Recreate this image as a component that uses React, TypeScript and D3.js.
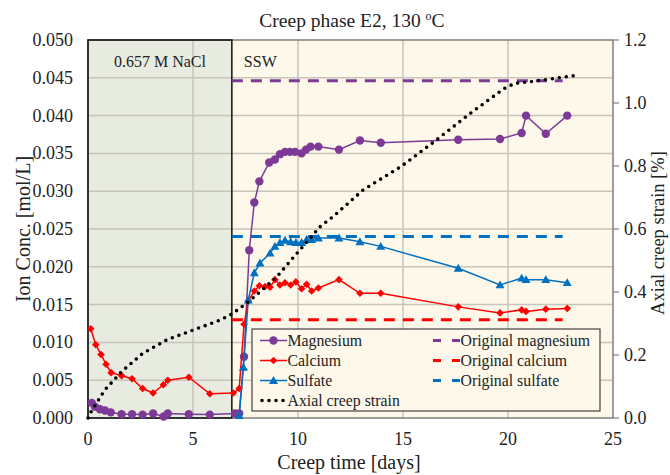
import React from "react";
import * as d3 from "d3";

const xTicks = [0, 5, 10, 15, 20, 25];
const yTicks = [0, 0.005, 0.01, 0.015, 0.02, 0.025, 0.03, 0.035, 0.04, 0.045, 0.05];
const y2Ticks = [0, 0.2, 0.4, 0.6, 0.8, 1.0, 1.2];
const phaseBoundary = 6.85;

const mgDays = [0.18, 0.33, 0.57, 0.81, 1.08, 1.6, 2.1, 2.6, 3.1, 3.6, 3.8, 4.8, 5.8, 7.0, 7.2, 7.43, 7.68, 7.92, 8.16, 8.63, 8.9, 9.14, 9.38, 9.62, 9.86, 10.17, 10.38, 10.6, 10.97, 11.95, 12.95, 13.94, 17.63, 19.62, 20.65, 20.86, 21.8, 22.82];
const mgConc = [0.002, 0.0015, 0.00115, 0.001, 0.00075, 0.0005, 0.0005, 0.00045, 0.0006, 0.0002, 0.0006, 0.0005, 0.00045, 0.0006, 0.0006, 0.0081, 0.0222, 0.0285, 0.0313, 0.0338, 0.0342, 0.0349, 0.0352, 0.0352, 0.0352, 0.035, 0.0355, 0.0359, 0.0359, 0.0355, 0.0367, 0.0364, 0.0368, 0.0369, 0.0377, 0.04, 0.0376, 0.04];

const caDays = [0.13, 0.37, 0.62, 0.86, 1.1, 1.6, 2.1, 2.6, 3.1, 3.59, 3.8, 4.8, 5.8, 6.92, 7.2, 7.43, 7.63, 7.92, 8.16, 8.43, 8.67, 8.9, 9.14, 9.38, 9.65, 9.9, 10.17, 10.41, 10.65, 10.97, 11.95, 12.95, 13.94, 17.63, 19.62, 20.65, 20.86, 21.8, 22.82];
const caConc = [0.0118, 0.0097, 0.0084, 0.0071, 0.006, 0.0056, 0.0052, 0.0039, 0.0033, 0.0044, 0.005, 0.0054, 0.0032, 0.0033, 0.0039, 0.0124, 0.0155, 0.0168, 0.0175, 0.0174, 0.0173, 0.0183, 0.0176, 0.0179, 0.0176, 0.018, 0.0171, 0.0177, 0.0168, 0.0172, 0.0183, 0.0165, 0.0165, 0.0147, 0.0139, 0.0143, 0.0141, 0.0144, 0.0145];

const so4Days = [7.2, 7.4, 7.63, 7.92, 8.19, 8.67, 8.9, 9.14, 9.38, 9.65, 9.9, 10.17, 10.41, 10.65, 10.97, 11.95, 12.95, 13.94, 17.63, 19.62, 20.65, 20.86, 21.8, 22.82];
const so4Conc = [0.0003, 0.0067, 0.0156, 0.0192, 0.0205, 0.0218, 0.0227, 0.0232, 0.0235, 0.0233, 0.0232, 0.0232, 0.0236, 0.0236, 0.0238, 0.0238, 0.0233, 0.0227, 0.0198, 0.0176, 0.0185, 0.0183, 0.0183, 0.0179];

const strainDays = [0, 0.1, 0.8, 1.6, 2.6, 3.75, 5.0, 6.3, 6.85, 7.55, 8.2, 9.0, 9.95, 11.05, 11.7, 13.1, 14.9, 16.6, 18.2, 19.8, 20.3, 21.7, 23.4];
const strainPct = [0, 0.015, 0.089, 0.147, 0.205, 0.248, 0.279, 0.311, 0.33, 0.364, 0.401, 0.449, 0.523, 0.607, 0.641, 0.724, 0.798, 0.883, 0.967, 1.045, 1.062, 1.073, 1.089];

const originalSpan = [6.85, 22.6];
const originalMg = 0.0446;
const originalCa = 0.013;
const originalSo4 = 0.024;

const PURPLE = "#7c3a96";
const RED = "#ff0000";
const BLUE = "#0070c0";
const FONT = "'Liberation Serif', 'Times New Roman', serif";

const W = 670, H = 475;
const L = 88, R = 613, T = 40, B = 418;

export default function App() {
  const x = d3.scaleLinear().domain([0, 25]).range([L, R]);
  const y = d3.scaleLinear().domain([0, 0.05]).range([B, T]);
  const y2 = d3.scaleLinear().domain([0, 1.2]).range([B, T]);

  const line = d3.line<[number, number]>().x(d => x(d[0])).y(d => y(d[1]));
  const line2 = d3.line<[number, number]>().x(d => x(d[0])).y(d => y2(d[1]));

  const mg: [number, number][] = mgDays.map((d, i) => [d, mgConc[i]]);
  const ca: [number, number][] = caDays.map((d, i) => [d, caConc[i]]);
  const so4: [number, number][] = so4Days.map((d, i) => [d, so4Conc[i]]);
  const strain: [number, number][] = strainDays.map((d, i) => [d, strainPct[i]]);

  const diamond = (cx: number, cy: number, s = 3.8) =>
    `M${cx},${cy - s}L${cx + s},${cy}L${cx},${cy + s}L${cx - s},${cy}Z`;
  const tri = (cx: number, cy: number, s = 4.5) =>
    `M${cx},${cy - s}L${cx + s},${cy + s * 0.75}L${cx - s},${cy + s * 0.75}Z`;

  const xb = x(phaseBoundary);
  const gridColor = "#c8c4ba";

  const legendRows = [
    { label: "Magnesium", col: 0, row: 0, color: PURPLE, kind: "circle" },
    { label: "Calcium", col: 0, row: 1, color: RED, kind: "diamond" },
    { label: "Sulfate", col: 0, row: 2, color: BLUE, kind: "tri" },
    { label: "Axial creep strain", col: 0, row: 3, color: "#000", kind: "dots" },
    { label: "Original magnesium", col: 1, row: 0, color: PURPLE, kind: "dash" },
    { label: "Original calcium", col: 1, row: 1, color: RED, kind: "dash" },
    { label: "Original sulfate", col: 1, row: 2, color: BLUE, kind: "dash" },
  ];

  return (
    <svg width={W} height={H} style={{ position: "absolute", left: 0, top: 0, background: "#fff" }} fontFamily={FONT}>
      {/* backgrounds */}
      <rect x={L} y={T} width={R - L} height={B - T} fill="#fdf8ea" />
      <rect x={L} y={T} width={xb - L} height={B - T} fill="#e8ebdf" />

      {/* grid */}
      {yTicks.slice(1, -1).map(t => (
        <line key={"gy" + t} x1={L} x2={R} y1={y(t)} y2={y(t)} stroke={gridColor} strokeWidth={1.5} />
      ))}
      {xTicks.slice(1, -1).map(t => (
        <line key={"gx" + t} x1={x(t)} x2={x(t)} y1={T} y2={B} stroke={gridColor} strokeWidth={1.5} />
      ))}

      {/* frame */}
      <rect x={L} y={T} width={R - L} height={B - T} fill="none" stroke="#808080" strokeWidth={1.5} />
      <rect x={L} y={T} width={xb - L} height={B - T} fill="none" stroke="#111" strokeWidth={1.5} />
      {y2Ticks.map(t => (
        <line key={"rt" + t} x1={R} x2={R + 6} y1={y2(t)} y2={y2(t)} stroke="#808080" strokeWidth={1.2} />
      ))}

      {/* phase labels */}
      <text x={(L + xb) / 2} y={67} textAnchor="middle" fontSize={16} fill="#222">0.657 M NaCl</text>
      <text x={xb + 12} y={67} fontSize={16} fill="#222">SSW</text>

      {/* original concentrations */}
      {[
        [originalMg, PURPLE],
        [originalCa, RED],
        [originalSo4, BLUE],
      ].map(([v, c]) => (
        <line key={"o" + v} x1={x(originalSpan[0])} x2={x(originalSpan[1])} y1={y(v as number)} y2={y(v as number)}
          stroke={c as string} strokeWidth={3} strokeDasharray="11 8" />
      ))}

      {/* magnesium */}
      <path d={line(mg) || ""} fill="none" stroke={PURPLE} strokeWidth={1.5} />
      {mg.map((d, i) => <circle key={"mg" + i} cx={x(d[0])} cy={y(d[1])} r={4.2} fill={PURPLE} />)}

      {/* calcium */}
      <path d={line(ca) || ""} fill="none" stroke={RED} strokeWidth={1.5} />
      {ca.map((d, i) => <path key={"ca" + i} d={diamond(x(d[0]), y(d[1]))} fill={RED} />)}

      {/* sulfate */}
      <path d={line(so4) || ""} fill="none" stroke={BLUE} strokeWidth={1.5} />
      {so4.map((d, i) => <path key={"so" + i} d={tri(x(d[0]), y(d[1]))} fill={BLUE} />)}

      {/* strain */}
      <path d={line2(strain) || ""} fill="none" stroke="#000" strokeWidth={3.6} strokeLinecap="round" strokeDasharray="0 7" />

      {/* legend */}
      <rect x={252} y={329} width={348} height={82} fill="#fdf8ea" stroke="#444" strokeWidth={1.2} />
      {legendRows.map(r => {
        const ly = 340.5 + r.row * 20;
        const sx0 = r.col === 0 ? 260 : 433;
        const sx1 = r.col === 0 ? 287 : 460;
        const cx = (sx0 + sx1) / 2;
        return (
          <g key={r.label}>
            {r.kind === "dash" && (
              <line x1={sx0} x2={sx1} y1={ly} y2={ly} stroke={r.color} strokeWidth={3} strokeDasharray="8 11" />
            )}
            {r.kind === "dots" && (
              <line x1={sx0 + 2} x2={sx1} y1={ly} y2={ly} stroke="#000" strokeWidth={3.6} strokeLinecap="round" strokeDasharray="0 7" />
            )}
            {(r.kind === "circle" || r.kind === "diamond" || r.kind === "tri") && (
              <line x1={sx0} x2={sx1} y1={ly} y2={ly} stroke={r.color} strokeWidth={1.5} />
            )}
            {r.kind === "circle" && <circle cx={cx} cy={ly} r={4.2} fill={r.color} />}
            {r.kind === "diamond" && <path d={diamond(cx, ly)} fill={r.color} />}
            {r.kind === "tri" && <path d={tri(cx, ly)} fill={r.color} />}
            <text x={sx1 + 0.5} y={ly + 5.5} fontSize={15.8} fill="#222">{r.label}</text>
          </g>
        );
      })}

      {/* axes tick labels */}
      {yTicks.map(t => (
        <text key={"yl" + t} x={73} y={y(t) + 6} textAnchor="end" fontSize={18} fill="#222">{t.toFixed(3)}</text>
      ))}
      {y2Ticks.map(t => (
        <text key={"y2l" + t} x={624} y={y2(t) + 6} textAnchor="start" fontSize={18} fill="#222">{t.toFixed(1)}</text>
      ))}
      {xTicks.map(t => (
        <text key={"xl" + t} x={x(t)} y={445} textAnchor="middle" fontSize={18} fill="#222">{t}</text>
      ))}

      {/* titles */}
      <text x={352} y={27} textAnchor="middle" fontSize={19.5} fill="#222">
        Creep phase E2, 130 <tspan fontSize={12} dy={-7}>o</tspan><tspan dy={7}>C</tspan>
      </text>
      <text x={349} y={469} textAnchor="middle" fontSize={20} fill="#222">Creep time [days]</text>
      <text transform={`translate(30,${(T + B) / 2}) rotate(-90)`} textAnchor="middle" fontSize={20} fill="#222">Ion Conc. [mol/L]</text>
      <text transform={`translate(664,233) rotate(-90)`} textAnchor="middle" fontSize={18.5} fill="#222">Axial creep strain [%]</text>
    </svg>
  );
}
